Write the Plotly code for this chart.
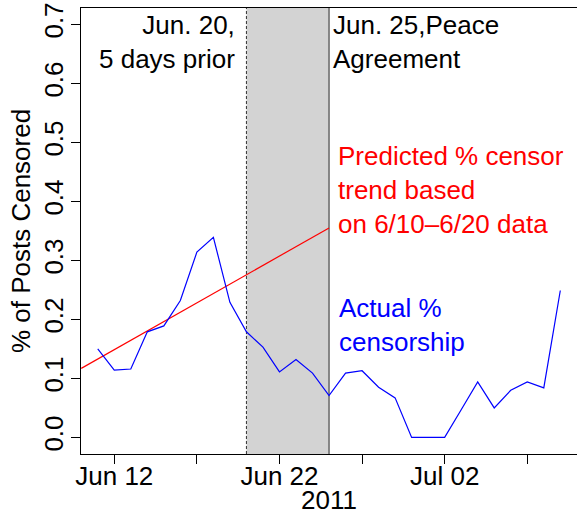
import plotly.graph_objects as go

# ---- data ----
dates = ["2011-06-11", "2011-06-12", "2011-06-13", "2011-06-14", "2011-06-15",
         "2011-06-16", "2011-06-17", "2011-06-18", "2011-06-19", "2011-06-20",
         "2011-06-21", "2011-06-22", "2011-06-23", "2011-06-24", "2011-06-25",
         "2011-06-26", "2011-06-27", "2011-06-28", "2011-06-29", "2011-06-30",
         "2011-07-01", "2011-07-02", "2011-07-03", "2011-07-04", "2011-07-05",
         "2011-07-06", "2011-07-07", "2011-07-08", "2011-07-09"]
censored = [0.150, 0.114, 0.116, 0.179, 0.189, 0.232, 0.314, 0.339, 0.229, 0.179,
            0.153, 0.111, 0.132, 0.109, 0.071, 0.109, 0.113, 0.085, 0.067, 0.0,
            0.0, 0.0, 0.047, 0.094, 0.050, 0.080, 0.094, 0.084, 0.249]

trend_dates = ["2011-06-10", "2011-06-25"]
trend_values = [0.117, 0.355]

prior_date = "2011-06-20"
peace_date = "2011-06-25"

tick_dates = ["2011-06-12", "2011-06-17", "2011-06-22", "2011-06-27", "2011-07-02", "2011-07-07"]
tick_labels = ["Jun 12", "", "Jun 22", "", "Jul 02", ""]
y_ticks = [0.0, 0.1, 0.2, 0.3, 0.4, 0.5, 0.6, 0.7]
y_tick_labels = ["0.0", "0.1", "0.2", "0.3", "0.4", "0.5", "0.6", "0.7"]

FONT = "Liberation Sans, Arial, Helvetica, sans-serif"
FS = 26

fig = go.Figure()

fig.add_trace(go.Scatter(x=trend_dates, y=trend_values, mode="lines",
                         line=dict(color="#FF0000", width=1.2), showlegend=False,
                         hoverinfo="skip"))
fig.add_trace(go.Scatter(x=dates, y=censored, mode="lines",
                         line=dict(color="#0000FF", width=1.2), showlegend=False))

fig.add_shape(type="rect", xref="x", yref="paper", x0=prior_date, x1=peace_date,
              y0=0, y1=1, fillcolor="#D3D3D3", line=dict(width=0), layer="below")
fig.add_shape(type="line", xref="x", yref="paper", x0=prior_date, x1=prior_date,
              y0=0, y1=1, line=dict(color="#333333", width=1, dash="3px,2px"), layer="below")
fig.add_shape(type="line", xref="x", yref="paper", x0=peace_date, x1=peace_date,
              y0=0, y1=1, line=dict(color="#666666", width=1.5), layer="below")

fig.add_annotation(x=prior_date, xref="x", y=0.671, yref="y", xanchor="right",
                   yanchor="middle", xshift=-9, align="right", showarrow=False,
                   text="Jun. 20,<br>5 days prior",
                   font=dict(family=FONT, size=FS, color="black"))
fig.add_annotation(x=peace_date, xref="x", y=0.671, yref="y", xanchor="left",
                   yanchor="middle", xshift=2, align="left", showarrow=False,
                   text="Jun. 25,Peace<br>Agreement",
                   font=dict(family=FONT, size=FS, color="black"))
fig.add_annotation(x=peace_date, xref="x", y=0.419, yref="y", xanchor="left",
                   yanchor="middle", xshift=7, align="left", showarrow=False,
                   text="Predicted % censor<br>trend based<br>on 6/10\u20136/20 data",
                   font=dict(family=FONT, size=FS, color="#FF0000"))
fig.add_annotation(x=peace_date, xref="x", y=0.191, yref="y", xanchor="left",
                   yanchor="middle", xshift=8, align="left", showarrow=False,
                   text="Actual %<br>censorship",
                   font=dict(family=FONT, size=FS, color="#0000FF"))

fig.update_layout(
    width=577, height=515,
    margin=dict(l=81, r=0, t=8, b=61),
    paper_bgcolor="white", plot_bgcolor="white",
    font=dict(family=FONT, size=FS, color="black"),
    showlegend=False,
    xaxis=dict(
        type="date", automargin=False,
        range=["2011-06-09 23:40", "2011-07-10 00:15"],
        tickmode="array", tickvals=tick_dates, ticktext=tick_labels,
        ticks="outside", ticklen=9, tickcolor="black", tickwidth=1,
        ticklabelstandoff=-10,
        showline=True, linecolor="black", linewidth=1, mirror=True,
        showgrid=False, zeroline=False,
        tickfont=dict(family=FONT, size=FS, color="black"),
        title=dict(text="2011", font=dict(family=FONT, size=FS, color="black"), standoff=10),
    ),
    yaxis=dict(
        automargin=False,
        range=[-0.0281, 0.7278],
        tickmode="array", tickvals=y_ticks, ticktext=y_tick_labels,
        tickangle=-90,
        ticks="outside", ticklen=9, tickcolor="black", tickwidth=1,
        ticklabelstandoff=-2,
        showline=True, linecolor="black", linewidth=1,
        showgrid=False, zeroline=False,
        tickfont=dict(family=FONT, size=FS, color="black"),
        title=dict(text="% of Posts Censored", font=dict(family=FONT, size=FS, color="black"), standoff=0),
    ),
)

fig.write_html("out.html",
               config={"displayModeBar": False},
               post_script="document.body.style.margin='0px';document.body.style.overflow='hidden';")
